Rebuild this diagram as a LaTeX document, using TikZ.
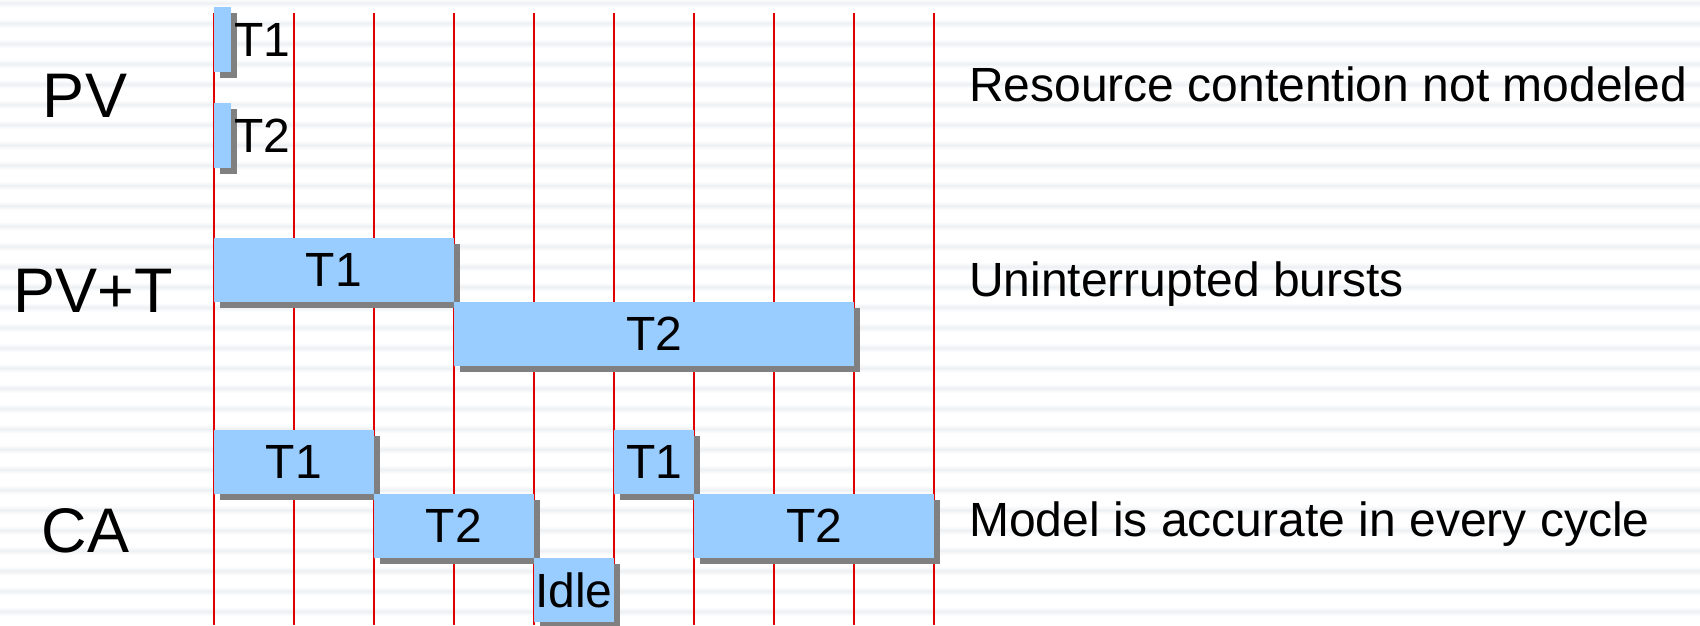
\documentclass[tikz,border=0pt]{standalone}
\usepackage{fontspec}
\setmainfont{Liberation Sans}
\usetikzlibrary{shadows}
\definecolor{stripe}{HTML}{EDF0F3}
\definecolor{gridred}{HTML}{E00000}
\definecolor{slotblue}{HTML}{99CCFF}
\definecolor{shadowgray}{HTML}{808080}
\begin{document}
\begin{tikzpicture}[x=1pt,y=-1pt,
  slot/.style={fill=slotblue, inner sep=0pt, outer sep=0pt, minimum height=64pt,
    anchor=north west, font=\fontsize{48}{48}\selectfont,
    drop shadow={shadow xshift=5.5pt, shadow yshift=-5.5pt, fill=shadowgray, opacity=1}},
  rowlabel/.style={font=\fontsize{63}{63}\selectfont, anchor=base, inner sep=0pt},
  note/.style={font=\fontsize{48}{48}\selectfont, anchor=base west, inner sep=0pt},
  tag/.style={font=\fontsize{48}{48}\selectfont, anchor=base west, inner sep=0pt},
  cycle line/.style={draw=gridred, line width=2.2pt},
]
\useasboundingbox (0,0) rectangle (1700,625);

% striped background
\fill[white] (0,0) rectangle (1700,625);
\foreach \k in {0,...,30} {
  \pgfmathsetmacro\yy{3+20.28*\k}
  \shade[top color=white, bottom color=white, middle color=stripe]
    (0,\yy-4.5) rectangle (1700,\yy+4.5);
}

% clock cycle boundaries
\foreach \i in {0,...,9}
  \draw[cycle line] ({214+80*\i},13) -- ({214+80*\i},625);

% PV: no duration
\node[slot, minimum width=17pt, minimum height=65pt] (pvA) at (214,7) {};
\node[slot, minimum width=17pt, minimum height=65pt] (pvB) at (214,103) {};
\node[tag] (pvAl) at (234,56) {T1};
\node[tag] (pvBl) at (234,152.7) {T2};

% PV+T: whole bursts
\node[slot, minimum width=240pt] (ptA) at (214,238) {T1};
\node[slot, minimum width=400pt] (ptB) at (454,302) {T2};

% CA: cycle by cycle
\node[slot, minimum width=160pt] (caA1) at (214,430) {T1};
\node[slot, minimum width=160pt] (caB1) at (374,494) {T2};
\node[slot, minimum width=80pt]  (idle) at (534,558) {Idle};
\node[slot, minimum width=80pt]  (caA2) at (614,430) {T1};
\node[slot, minimum width=240pt] (caB2) at (694,494) {T2};

% row names
\node[rowlabel] (lpv)  at (85,117)   {PV};
\node[rowlabel] (lpvt) at (93,312.7) {PV+T};
\node[rowlabel] (lca)  at (85.5,552) {CA};

% remarks
\node[note] (npv)  at (969,101.7) {Resource contention not modeled};
\node[note] (npvt) at (969,296.7) {Uninterrupted bursts};
\node[note] (nca)  at (969,536)   {Model is accurate in every cycle};
\end{tikzpicture}
\end{document}
